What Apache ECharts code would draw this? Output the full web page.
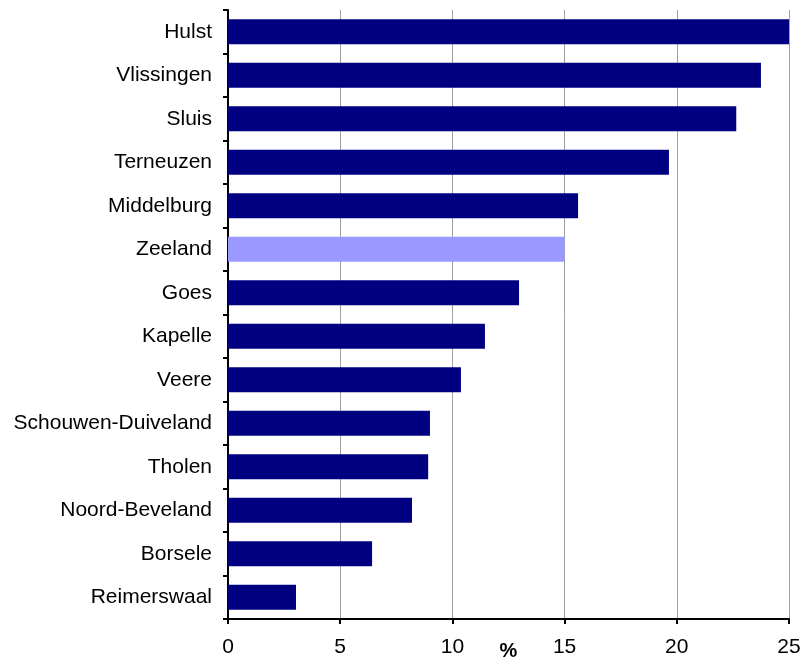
<!DOCTYPE html>
<html>
<head>
<meta charset="utf-8">
<script src="https://cdn.jsdelivr.net/npm/echarts@6/dist/echarts.min.js"></script>
<style>html,body{margin:0;padding:0;background:#fff;width:803px;height:661px;overflow:hidden;}#c{width:803px;height:661px;}</style>
</head>
<body>
<div id="c"></div>
<script>
var categories = ["Hulst","Vlissingen","Sluis","Terneuzen","Middelburg","Zeeland","Goes","Kapelle","Veere","Schouwen-Duiveland","Tholen","Noord-Beveland","Borsele","Reimerswaal"];
var values = [25.0, 23.75, 22.65, 19.65, 15.6, 15.0, 12.97, 11.45, 10.38, 9.0, 8.92, 8.2, 6.42, 3.03];
var highlight = "Zeeland";
var xTicks = [0, 5, 10, 15, 20, 25];

var chart = echarts.init(document.getElementById('c'), null, {renderer: 'canvas', width: 803, height: 661});
chart.setOption({
  animation: false,
  backgroundColor: '#ffffff',
  grid: {left: 228, right: 14, top: 10, bottom: 42, containLabel: false, outerBoundsMode: 'none'},
  xAxis: {
    type: 'value',
    min: xTicks[0], max: xTicks[xTicks.length - 1], interval: 5,
    name: '%', nameLocation: 'middle', nameGap: 22, nameMoveOverlap: false,
    nameTextStyle: {fontFamily: 'Liberation Sans', fontSize: 20, fontWeight: 'bold', color: '#000', verticalAlign: 'top'},
    axisLine: {show: true, onZero: false, lineStyle: {color: '#000', width: 2}},
    axisTick: {show: true, length: 5, lineStyle: {color: '#000', width: 2}},
    axisLabel: {fontFamily: 'Liberation Sans', fontSize: 21, color: '#000', margin: 18},
    splitLine: {show: true, lineStyle: {color: '#a0a0a0', width: 1}}
  },
  yAxis: {
    type: 'category',
    data: categories,
    inverse: true,
    axisLine: {show: true, lineStyle: {color: '#000', width: 2}},
    axisTick: {show: true, length: 5, alignWithLabel: false, lineStyle: {color: '#000', width: 2}},
    axisLabel: {fontFamily: 'Liberation Sans', fontSize: 21, color: '#000', margin: 16},
    splitLine: {show: false}
  },
  series: [{
    type: 'bar',
    data: values.map(function (v, i) {
      return {value: v, itemStyle: {color: categories[i] === highlight ? '#9999ff' : '#000080'}};
    }),
    barCategoryGap: '43%',
    z: 3
  }]
});
</script>
</body>
</html>
